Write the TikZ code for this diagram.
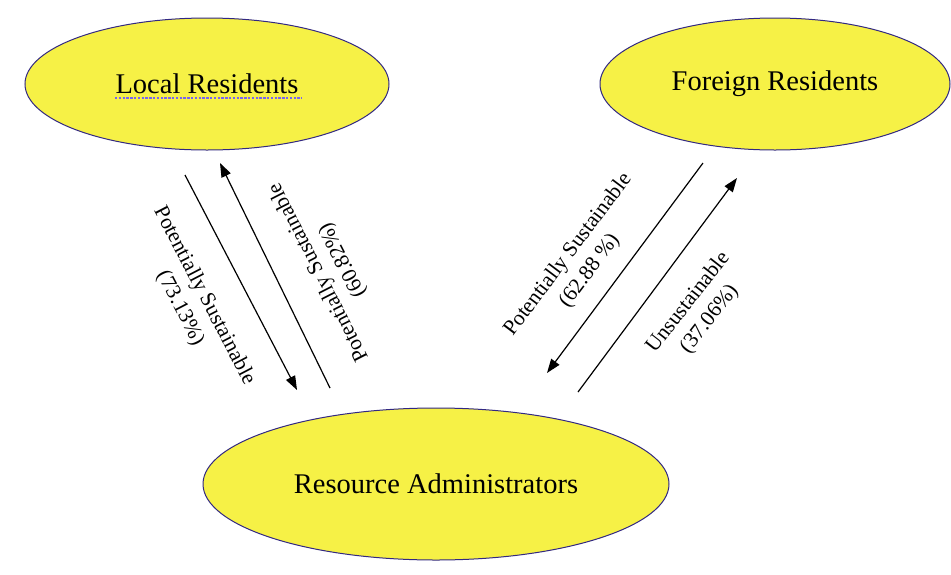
\documentclass[tikz,border=0pt]{standalone}
\usepackage{fontspec}
\setmainfont{Liberation Serif}
\usetikzlibrary{arrows.meta,shapes.geometric,calc}
\definecolor{ovalfill}{RGB}{246,241,70}
\definecolor{ovalline}{RGB}{50,40,130}
\definecolor{spellblue}{RGB}{120,100,240}

\begin{document}
\begin{tikzpicture}[x=1pt,y=-1pt,
  actor/.style={ellipse, draw=ovalline, line width=1pt, fill=ovalfill, inner sep=0pt, font=\fontsize{28.5}{32}\selectfont},
  flow/.style={-{Triangle[length=14pt,width=10pt]}, line width=1.2pt},
  flowlabel/.style={align=center, inner sep=0pt, font=\fontsize{21.5}{27}\selectfont}]

  % Fixed bounding box
  \path[use as bounding box, fill=white] (0,0) rectangle (951,574);

  % The three groups
  \node[actor, minimum width=364pt, minimum height=132pt] (local) at (207,84) {Local Residents};
  \node[actor, minimum width=350pt, minimum height=132pt] (foreign) at (775,84) {Foreign Residents};
  \node[actor, minimum width=466pt, minimum height=152pt] (admin) at (436,484) {Resource Administrators};

  % Spell-check mark under the first label
  \draw[spellblue, line width=2.4pt, dash pattern=on 2.4pt off 1.4pt] ($(local.center)+(-92,14)$) -- ($(local.center)+(95,14)$);

  % Arrow end points
  \coordinate (ld-a) at (185,175);
  \coordinate (ld-b) at (297,390);
  \coordinate (lu-a) at (330,388);
  \coordinate (lu-b) at (220,163);
  \coordinate (rd-a) at (703,163);
  \coordinate (rd-b) at (547,373);
  \coordinate (ru-a) at (578,392);
  \coordinate (ru-b) at (737,178);

  % Left pair of arrows
  \draw[flow] (ld-a) -- (ld-b);
  \draw[flow] (lu-a) -- (lu-b);
  \node[flowlabel, rotate=-62.5] (ld-lab) at (192,302) {Potentially Sustainable\\(73.13\%)};
  \node[flowlabel, rotate=117] (lu-lab) at (331,266) {Potentially Sustainable\\(60.82\%)};

  % Right pair of arrows
  \draw[flow] (rd-a) -- (rd-b);
  \draw[flow] (ru-a) -- (ru-b);
  \node[flowlabel, rotate=53] (rd-lab) at (579,263) {Potentially Sustainable\\(62.88 \%)};
  \node[flowlabel, rotate=52] (ru-lab) at (699,311) {Unsustainable\\(37.06\%)};

\end{tikzpicture}
\end{document}
